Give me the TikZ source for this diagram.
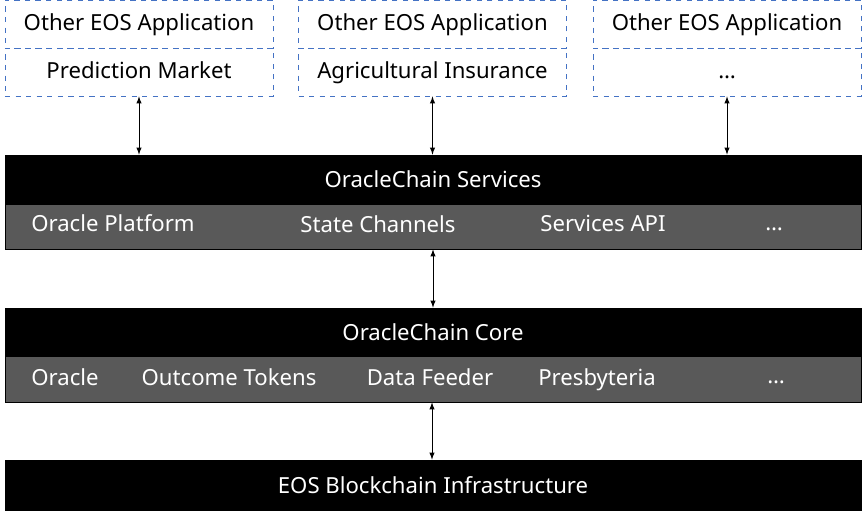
\documentclass[tikz,border=0pt]{standalone}
\usepackage{fontspec}
\setmainfont{Noto Sans}
\definecolor{appblue}{HTML}{4472C4}
\definecolor{bargray}{HTML}{595959}
\begin{document}
\begin{tikzpicture}[
    app/.style={draw=appblue, dashed, minimum width=5.36cm, minimum height=0.96cm, inner sep=0pt, text height=1.5ex, text depth=0.2ex, font=\fontsize{12.6}{14}\selectfont},
    blackbar/.style={draw=black, fill=black, text=white, minimum width=17.12cm, inner sep=0pt, font=\fontsize{12.6}{14}\selectfont},
    graybar/.style={draw=black, fill=bargray, minimum width=17.12cm, inner sep=0pt},
    item/.style={text=white, text height=1.5ex, text depth=0.2ex, font=\fontsize{12.6}{14}\selectfont},
    link/.style={>=latex, <->}
]
\useasboundingbox (0,0) rectangle (17.3,10.32);

% applications
\node [app] (appA) at (2.78,9.84) {Other EOS Application};
\node [app] (appB) at (8.65,9.84) {Other EOS Application};
\node [app] (appC) at (14.54,9.84) {Other EOS Application};
\node [app] (predict) at (2.78,8.88) {Prediction Market};
\node [app] (insure) at (8.65,8.88) {Agricultural Insurance};
\node [app] (more) at (14.54,8.88) {\dots};

% services
\node [blackbar, minimum height=0.98cm] (services) at (8.66,6.73) {OracleChain Services};
\node [graybar, minimum height=0.9cm] (servrow) at (8.66,5.79) {};
\node [item] (platform) at (2.26,5.81) {Oracle Platform};
\node [item] (channels) at (7.56,5.79) {State Channels};
\node [item] (api) at (12.06,5.81) {Services API};
\node [item] (servmore) at (15.48,5.83) {\dots};

% core
\node [blackbar, minimum height=0.96cm] (core) at (8.66,3.68) {OracleChain Core};
\node [graybar, minimum height=0.92cm] (corerow) at (8.66,2.74) {};
\node [item] (oracle) at (1.3,2.74) {Oracle};
\node [item] (tokens) at (4.58,2.74) {Outcome Tokens};
\node [item] (feeder) at (8.6,2.74) {Data Feeder};
\node [item] (presby) at (11.94,2.74) {Presbyteria};
\node [item] (coremore) at (15.52,2.78) {\dots};

% infrastructure
\node [blackbar, minimum height=1.0cm] (eos) at (8.66,0.62) {EOS Blockchain Infrastructure};

\draw [link] (predict.south) -- (predict.south |- services.north);
\draw [link] (insure.south) -- (insure.south |- services.north);
\draw [link] (more.south) -- (more.south |- services.north);
\draw [link] (servrow.south) -- (core.north);
\draw [link] ([xshift=-0.02cm]corerow.south) -- ([xshift=-0.02cm]eos.north);
\end{tikzpicture}
\end{document}
